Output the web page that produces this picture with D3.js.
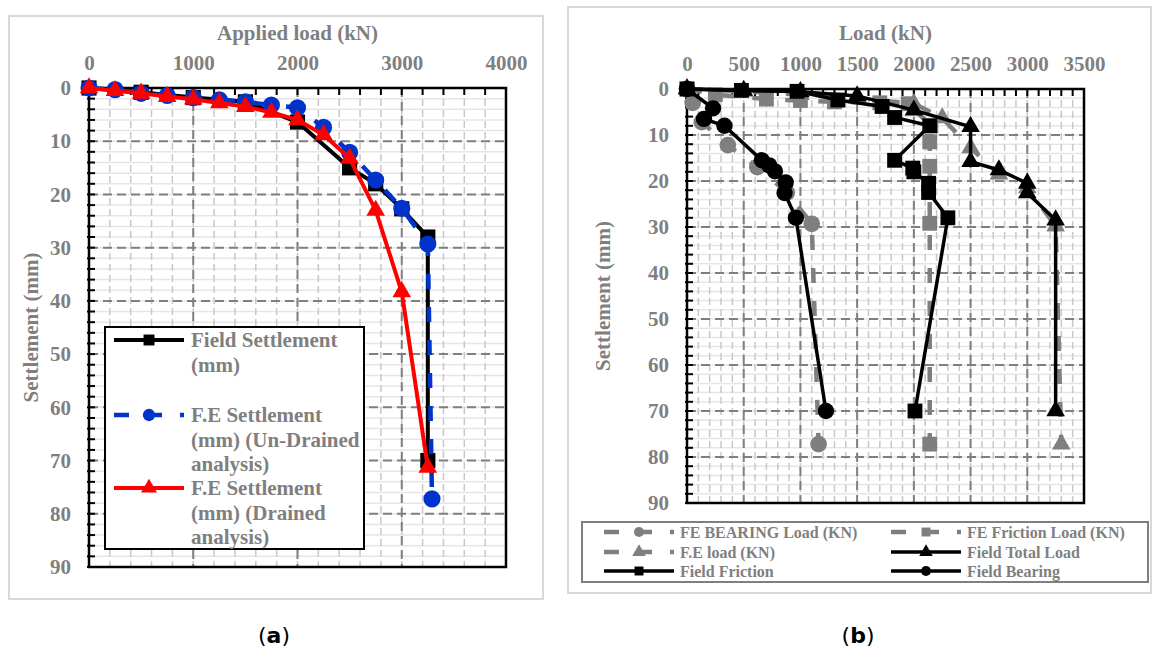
<!DOCTYPE html>
<head>
  <meta charset="utf-8">
  <title>Load settlement curves</title>
  <script src="https://d3js.org/d3.v7.min.js"></script>
  <style>
    body { margin: 0; background: #fff; }
    text { font-family: "Liberation Serif", "Times New Roman", serif; }
  </style>
</head>
<body>
  <svg id="main-svg"></svg>
  <script type="text/javascript">
    const svg_width = 1154;
    const svg_height = 649;

    // ---- panel (a) data : [load kN, settlement mm]
    const loadTicksA = [0, 1000, 2000, 3000, 4000];
    const settleTicks = [0, 10, 20, 30, 40, 50, 60, 70, 80, 90];
    const fieldSettlement = [[0, 0], [500, 0.8], [1000, 1.8], [1500, 2.6], [2000, 6.4], [2500, 15],
      [2750, 18], [3000, 22.7], [3250, 28], [3250, 70]];
    const feUndrained = [[0, 0], [250, 0.3], [500, 1], [750, 1.4], [1000, 1.8], [1250, 2.2], [1500, 2.6],
      [1750, 3.2], [2000, 3.7], [2250, 7.4], [2500, 12.1], [2750, 17.3], [3000, 22.6], [3250, 29.3], [3290, 77.2]];
    const feDrained = [[0, 0], [250, 0.5], [500, 1.0], [750, 1.6], [1000, 2.1], [1250, 2.8], [1500, 3.5],
      [1750, 4.6], [2000, 6], [2250, 8.8], [2500, 13.2], [2750, 23], [3000, 38.3], [3250, 71.3]];
    const legendLabelsA = [
      ["Field Settlement", "(mm)"],
      ["F.E Settlement", "(mm) (Un-Drained", "analysis)"],
      ["F.E Settlement", "(mm) (Drained", "analysis)"]
    ];

    // ---- panel (b) data
    const loadTicksB = [0, 500, 1000, 1500, 2000, 2500, 3000, 3500];
    const feBearing = [[0, 0], [50, 3], [130, 7.2], [360, 12.2], [620, 17], [880, 22.5], [1100, 29.3], [1160, 77.2]];
    const feFriction = [[0, 0], [250, 1.2], [700, 2.2], [1000, 2.5], [1300, 2.8], [1700, 3], [1950, 3.2],
      [2150, 8], [2140, 11.5], [2140, 16.8], [2140, 29.2], [2140, 77.2]];
    const feLoad = [[0, 0], [500, 0.5], [1000, 1.2], [1500, 2], [2000, 3.2], [2250, 6.3], [2500, 12.8],
      [2750, 18.5], [3000, 21.5], [3250, 29.8], [3300, 77.2]];
    const fieldTotal = [[0, 0], [500, 0.3], [1000, 0.6], [1500, 1.5], [2000, 4.6], [2500, 8.2], [2500, 15.8],
      [2750, 17.6], [3000, 20.5], [3000, 22.6], [3250, 28.5], [3250, 70]];
    const fieldFriction = [[0, 0], [480, 0.3], [970, 0.5], [1330, 2.4], [1720, 3.8], [1830, 6.2], [2140, 8],
      [1830, 15.5], [1990, 17.2], [2000, 18], [2130, 20.5], [2130, 22.5], [2300, 28], [2010, 70]];
    const fieldBearing = [[0, 0], [230, 4.2], [150, 6.5], [330, 8], [660, 15.5], [725, 16.6], [775, 17.9],
      [870, 20.3], [860, 22.6], [960, 28], [1225, 70]];

    const grey = "#7f7f7f";
    const blue = "#0033cc";
    const dashSeries = "15,18";

    var svg = d3.select("#main-svg")
      .attr("width", svg_width)
      .attr("height", svg_height);

    // outer frames
    svg.append("rect").attr("x", 9).attr("y", 16).attr("width", 534).attr("height", 583)
      .attr("fill", "none").attr("stroke", "#d9d9d9").attr("stroke-width", 2);
    svg.append("rect").attr("x", 568).attr("y", 7).attr("width", 583).attr("height", 586)
      .attr("fill", "none").attr("stroke", "#d9d9d9").attr("stroke-width", 2);

    function drawPanel(p) {
      var x = d3.scaleLinear().domain([0, p.xmax]).range([p.left, p.right]);
      var y = d3.scaleLinear().domain([0, 90]).range([p.top, p.bottom]);
      var g = svg.append("g");

      // minor grid
      var xMinor = d3.range(0, p.xmax + 1, p.xMinor);
      var yMinor = d3.range(0, 91, 2);
      g.selectAll(".hminor").data(yMinor).enter().append("line")
        .attr("x1", p.left).attr("x2", p.right)
        .attr("y1", d => y(d)).attr("y2", d => y(d))
        .attr("stroke", "#e6e6e6").attr("stroke-width", 1.5);
      g.selectAll(".vminor").data(xMinor).enter().append("line")
        .attr("x1", d => x(d)).attr("x2", d => x(d))
        .attr("y1", p.top).attr("y2", p.bottom)
        .attr("stroke", "#c8c8c8").attr("stroke-width", 1.5)
        .attr("stroke-dasharray", "7,4");

      // major dashed grid
      g.selectAll(".hmajor").data(settleTicks.slice(1, -1)).enter().append("line")
        .attr("x1", p.left).attr("x2", p.right)
        .attr("y1", d => y(d)).attr("y2", d => y(d))
        .attr("stroke", grey).attr("stroke-width", 2).attr("stroke-dasharray", "9,5");
      g.selectAll(".vmajor").data(p.xTicks.slice(1, -1)).enter().append("line")
        .attr("x1", d => x(d)).attr("x2", d => x(d))
        .attr("y1", p.top).attr("y2", p.bottom)
        .attr("stroke", grey).attr("stroke-width", 2).attr("stroke-dasharray", "9,5");

      // minor ticks on top and left axes
      g.selectAll(".tt").data(xMinor).enter().append("line")
        .attr("x1", d => x(d)).attr("x2", d => x(d))
        .attr("y1", p.top).attr("y2", p.top + 7)
        .attr("stroke", "#000").attr("stroke-width", 2);
      g.selectAll(".lt").data(yMinor).enter().append("line")
        .attr("x1", p.left - 2).attr("x2", p.left + 6)
        .attr("y1", d => y(d)).attr("y2", d => y(d))
        .attr("stroke", "#000").attr("stroke-width", 2);

      // plot box
      g.append("rect").attr("x", p.left).attr("y", p.top)
        .attr("width", p.right - p.left).attr("height", p.bottom - p.top)
        .attr("fill", "none").attr("stroke", "#000").attr("stroke-width", 2.5);

      // axis labels via d3 axes
      var xAxis = d3.axisTop(x).tickValues(p.xTicks).tickFormat(d3.format("d")).tickSize(0).tickPadding(18);
      var yAxis = d3.axisLeft(y).tickValues(settleTicks).tickFormat(d3.format("d")).tickSize(0).tickPadding(18);
      var gx = g.append("g").attr("transform", "translate(0," + p.top + ")").call(xAxis);
      var gy = g.append("g").attr("transform", "translate(" + p.left + ",0)").call(yAxis);
      [gx, gy].forEach(function(a) {
        a.select(".domain").remove();
        a.selectAll("text").attr("fill", grey).style("font-size", "21px")
          .style("font-weight", "bold").style("font-family", "Liberation Serif");
      });

      // titles
      g.append("text").attr("x", (p.left + p.right) / 2).attr("y", 40)
        .attr("text-anchor", "middle").attr("fill", grey)
        .style("font-size", "21px").style("font-weight", "bold").text(p.title);
      g.append("text")
        .attr("transform", "translate(" + (p.ylabX) + "," + ((p.top + p.bottom) / 2) + ") rotate(-90)")
        .attr("text-anchor", "middle").attr("dy", "0.35em").attr("fill", grey)
        .style("font-size", "21px").style("font-weight", "bold").text("Settlement (mm)");

      return { x: x, y: y, g: g };
    }

    function drawSeries(ctx, data, s) {
      var line = d3.line().x(d => ctx.x(d[0])).y(d => ctx.y(d[1]));
      ctx.g.append("path").datum(data)
        .attr("d", line).attr("fill", "none")
        .attr("stroke", s.color).attr("stroke-width", s.width)
        .attr("stroke-dasharray", s.dash || null);
      ctx.g.selectAll(null).data(data).enter().append("path")
        .attr("transform", d => "translate(" + ctx.x(d[0]) + "," + ctx.y(d[1]) + ")")
        .attr("d", d3.symbol().type(s.symbol).size(s.size))
        .attr("fill", s.color);
    }

    function legendSymbol(g, x0, x1, yy, s, msize) {
      g.append("line").attr("x1", x0).attr("x2", x1).attr("y1", yy).attr("y2", yy)
        .attr("stroke", s.color).attr("stroke-width", s.width)
        .attr("stroke-dasharray", s.dash || null);
      g.append("path").attr("transform", "translate(" + ((x0 + x1) / 2) + "," + yy + ")")
        .attr("d", d3.symbol().type(s.symbol).size(msize)).attr("fill", s.color);
    }

    // ---------------- panel (a)
    var A = drawPanel({ left: 89, top: 88, right: 506, bottom: 567, xmax: 4000, xMinor: 200,
      xTicks: loadTicksA, title: "Applied load (kN)", ylabX: 31 });

    var sField = { color: "#000", width: 4, symbol: d3.symbolSquare, size: 230 };
    var sUnd = { color: blue, width: 4.5, dash: dashSeries, symbol: d3.symbolCircle, size: 230 };
    var sDr = { color: "#ff0000", width: 4, symbol: d3.symbolTriangle, size: 150 };
    drawSeries(A, fieldSettlement, sField);
    drawSeries(A, feUndrained, sUnd);
    drawSeries(A, feDrained, sDr);

    // legend (a)
    var legA = svg.append("g");
    legA.append("rect").attr("x", 105).attr("y", 327).attr("width", 259).attr("height", 222)
      .attr("fill", "#fff").attr("stroke", "#000").attr("stroke-width", 2);
    var legRowsA = [340, 415, 488];
    [sField, sUnd, sDr].forEach(function(s, i) {
      legendSymbol(legA, 114, 184, legRowsA[i], s, i === 2 ? 110 : 120);
      legendLabelsA[i].forEach(function(t, k) {
        legA.append("text").attr("x", 191).attr("y", legRowsA[i] + 7 + k * 24.5)
          .attr("fill", grey).style("font-size", "21px").style("font-weight", "bold").text(t);
      });
    });

    // ---------------- panel (b)
    var B = drawPanel({ left: 687, top: 89, right: 1084, bottom: 503, xmax: 3500, xMinor: 100,
      xTicks: loadTicksB, title: "Load (kN)", ylabX: 603 });

    var sFeB = { color: grey, width: 4.5, dash: dashSeries, symbol: d3.symbolCircle, size: 220 };
    var sFeF = { color: grey, width: 4.5, dash: dashSeries, symbol: d3.symbolSquare, size: 220 };
    var sFeL = { color: grey, width: 4.5, dash: dashSeries, symbol: d3.symbolTriangle, size: 150 };
    var sFT = { color: "#000", width: 3.5, symbol: d3.symbolTriangle, size: 150 };
    var sFF = { color: "#000", width: 3.5, symbol: d3.symbolSquare, size: 220 };
    var sFBr = { color: "#000", width: 3.5, symbol: d3.symbolCircle, size: 210 };
    drawSeries(B, feBearing, sFeB);
    drawSeries(B, feFriction, sFeF);
    drawSeries(B, feLoad, sFeL);
    drawSeries(B, fieldTotal, sFT);
    drawSeries(B, fieldFriction, sFF);
    drawSeries(B, fieldBearing, sFBr);

    // legend (b)
    var legB = svg.append("g");
    legB.append("rect").attr("x", 582).attr("y", 522).attr("width", 566).attr("height", 60)
      .attr("fill", "#fff").attr("stroke", grey).attr("stroke-width", 2);
    var legItemsB = [
      ["FE BEARING Load (KN)", sFeB], ["FE Friction Load (KN)", sFeF],
      ["F.E load (KN)", sFeL], ["Field Total Load", sFT],
      ["Field Friction", sFF], ["Field Bearing", sFBr]
    ];
    var legRowsB = [532, 552, 571];
    legItemsB.forEach(function(item, i) {
      var col = i % 2, row = Math.floor(i / 2);
      var x0 = col === 0 ? 604 : 891;
      var yy = legRowsB[row];
      legendSymbol(legB, x0, x0 + 70, yy, item[1], 80);
      legB.append("text").attr("x", x0 + 76).attr("y", yy + 5.5)
        .attr("fill", grey).style("font-size", "16px").style("font-weight", "bold").text(item[0]);
    });

    // captions
    svg.append("text").attr("x", 274).attr("y", 643).attr("text-anchor", "middle")
      .style("font-size", "22px").style("font-family", "DejaVu Sans")
      .html("(<tspan font-weight='bold'>a</tspan>)");
    svg.append("text").attr("x", 858).attr("y", 643).attr("text-anchor", "middle")
      .style("font-size", "22px").style("font-family", "DejaVu Sans")
      .html("(<tspan font-weight='bold'>b</tspan>)");
  </script>
</body>
